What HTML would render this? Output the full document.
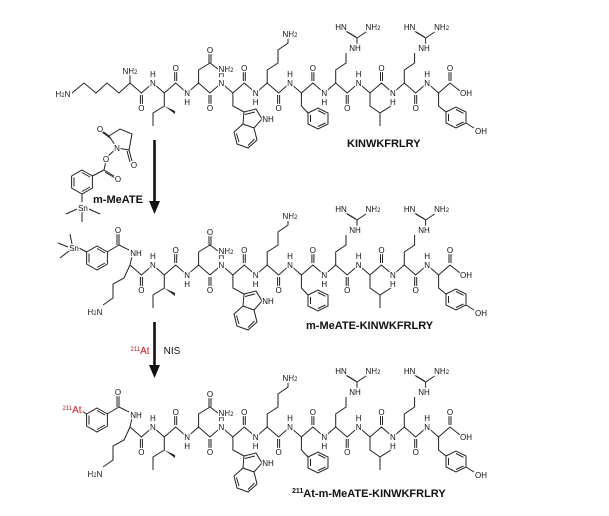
<!DOCTYPE html>
<html><head><meta charset="utf-8"><style>
html,body{margin:0;padding:0;background:#fff}
svg{display:block}
.b{fill:none;stroke:#222;stroke-width:1}
.t{font-family:"Liberation Sans",sans-serif;font-size:8px;fill:#111;stroke:#fff;stroke-width:2.5px;paint-order:stroke;text-anchor:middle}
.L{font-family:"Liberation Sans",sans-serif;font-weight:bold;font-size:11px;fill:#111}
.r{fill:#d01818}
</style></head><body>
<svg width="609" height="516" viewBox="0 0 609 516" xmlns="http://www.w3.org/2000/svg">

<!-- ===== TOP ROW ===== -->
<g>
<polyline class="b" points="130,83 141.4,93 152.9,83 164.3,93 175.7,83 187.1,93 198.6,83 210,93 221.4,83 232.9,93 244.3,83 255.7,93 267.2,83 278.6,93 290,83 301.4,93 312.9,83 324.3,93 335.7,83 347.2,93 358.6,83 370,93 381.5,83 392.9,93 404.3,83 415.7,93 427.2,83 438.6,93 450,83"/>
<path class="b" d="M140.4,95V104M142.4,95V104 M174.7,81V72M176.7,81V72 M209,95V104M211,95V104 M243.3,81V72M245.3,81V72 M277.6,95V104M279.6,95V104 M311.9,81V72M313.9,81V72 M346.2,95V104M348.2,95V104 M380.5,81V72M382.5,81V72 M414.7,95V104M416.7,95V104 M449,81V72M451,81V72 M450,83L460,91"/>
<text class="t" x="141.4" y="111">O</text><text class="t" x="175.7" y="71">O</text><text class="t" x="210" y="111">O</text><text class="t" x="244.3" y="71">O</text><text class="t" x="278.6" y="111">O</text><text class="t" x="312.9" y="71">O</text><text class="t" x="347.2" y="111">O</text><text class="t" x="381.5" y="71">O</text><text class="t" x="415.7" y="111">O</text><text class="t" x="450" y="71">O</text>
<text class="t" x="466" y="96">OH</text>
<text class="t" x="152.9" y="86">N</text><text class="t" x="152.9" y="77">H</text>
<text class="t" x="187.1" y="96">N</text><text class="t" x="187.1" y="105">H</text>
<text class="t" x="221.4" y="86">N</text><text class="t" x="221.4" y="77">H</text>
<text class="t" x="255.7" y="96">N</text><text class="t" x="255.7" y="105">H</text>
<text class="t" x="290" y="86">N</text><text class="t" x="290" y="77">H</text>
<text class="t" x="324.3" y="96">N</text><text class="t" x="324.3" y="105">H</text>
<text class="t" x="358.6" y="86">N</text><text class="t" x="358.6" y="77">H</text>
<text class="t" x="392.9" y="96">N</text><text class="t" x="392.9" y="105">H</text>
<text class="t" x="427.2" y="86">N</text><text class="t" x="427.2" y="77">H</text>
<path class="b" d="M164.3,93V106L153,113V126 M198.6,83V70L210,63 M209,63V53M211,63V53 M210,63L218,69 M232.9,93V106L244,112 M244,112L256,109L262,119L254,128L243,124Z M243,124L234,132L237,144L248,148L257,140L254,128 M267.2,83V70L278,63V50L288,43V39 M301.4,93V106L308,113 M308,113L318,108L328,113L328,124L318,129L308,124Z M335.7,83V70L346,63V53 M357,46V38 M357,38L347,32 M356,37L346,31 M357,38L366,32 M370,93V106L380,113V126M380,113L391,106 M404.3,83V70L414.6,63V53 M425.6,46V38 M425.6,38L415.6,32 M424.6,37L414.6,31 M425.6,38L434.6,32 M438.6,93V106L446,112 M446,112L456,107L466,112L466,123L456,128L446,123Z M466,123L474,128"/>
<path class="b" d="M318,110.5L325.5,114.3 M325.5,123L318,126.5 M310.5,122V115 M456,109.5L463.5,113.3 M463.5,122L456,125.5 M448.5,121V114 M236.5,133.5L239,142 M248,145.5L254.5,139 M245,114.5L255,112"/>
<path d="M164.3,106L175,111L175,114Z" fill="#222"/>
<text class="t" x="226" y="72">NH<tspan font-size="6">2</tspan></text>
<text class="t" x="210" y="53">O</text>
<text class="t" x="268" y="122">NH</text>
<text class="t" x="290" y="37">NH<tspan font-size="6">2</tspan></text>
<text class="t" x="355" y="51">NH</text>
<text class="t" x="341" y="30">HN</text><text class="t" x="373" y="30">NH<tspan font-size="6">2</tspan></text>
<text class="t" x="424" y="51">NH</text>
<text class="t" x="409.6" y="30">HN</text><text class="t" x="441.6" y="30">NH<tspan font-size="6">2</tspan></text>
<text class="t" x="481" y="134">OH</text>
<path class="b" d="M130,83V74 M130,83L119,93L107,83L96,93L84,83L72,93"/>
<text class="t" x="130" y="74">NH<tspan font-size="6">2</tspan></text>
<text class="t" x="63" y="97">H<tspan font-size="6">2</tspan>N</text>
<text class="L" x="347" y="147">KINWKFRLRY</text>
</g>

<!-- ===== REAGENT ===== -->
<path class="b" d="M117,148L109,136L120,129L132,134L129,150Z M109,136L101,130 M110,138L102,132 M129,150L132,161 M127,151L130,162 M117,148L108,156 M106,161L104,170 M82,170L92.4,176L92.4,188L82,194L71.6,188L71.6,176Z M92.4,176L104,170 M104,170L114,176 M105,172L115,178 M82,194V202 M77,209L66,214 M89,209L100,214 M82,212V222 M82,172.5L90,177 M90,187L82,191.5 M74,186.5V177.5"/>
<text class="t" x="100" y="132">O</text><text class="t" x="117" y="151">N</text><text class="t" x="134" y="168">O</text>
<text class="t" x="106" y="162">O</text><text class="t" x="118" y="182">O</text>
<text class="t" x="83" y="211">Sn</text>
<text class="L" x="93" y="203">m-MeATE</text>
<path d="M154.5,140V202" stroke="#111" stroke-width="2.6"/>
<path d="M149,201L160,201L154.5,214Z" fill="#111"/>

<path d="M154.5,322V366" stroke="#111" stroke-width="2.6"/>
<path d="M149,365L160,365L154.5,378Z" fill="#111"/>
<text class="t r" x="140" y="354" style="font-size:10px"><tspan font-size="6" dy="-3">211</tspan><tspan dy="3">At</tspan></text>
<text class="t" x="172" y="354" style="font-size:10px">NIS</text>

<!-- ===== MIDDLE ROW ===== -->
<g transform="translate(0,182)">
<polyline class="b" points="130,83 141.4,93 152.9,83 164.3,93 175.7,83 187.1,93 198.6,83 210,93 221.4,83 232.9,93 244.3,83 255.7,93 267.2,83 278.6,93 290,83 301.4,93 312.9,83 324.3,93 335.7,83 347.2,93 358.6,83 370,93 381.5,83 392.9,93 404.3,83 415.7,93 427.2,83 438.6,93 450,83"/>
<path class="b" d="M140.4,95V104M142.4,95V104 M174.7,81V72M176.7,81V72 M209,95V104M211,95V104 M243.3,81V72M245.3,81V72 M277.6,95V104M279.6,95V104 M311.9,81V72M313.9,81V72 M346.2,95V104M348.2,95V104 M380.5,81V72M382.5,81V72 M414.7,95V104M416.7,95V104 M449,81V72M451,81V72 M450,83L460,91"/>
<text class="t" x="141.4" y="111">O</text><text class="t" x="175.7" y="71">O</text><text class="t" x="210" y="111">O</text><text class="t" x="244.3" y="71">O</text><text class="t" x="278.6" y="111">O</text><text class="t" x="312.9" y="71">O</text><text class="t" x="347.2" y="111">O</text><text class="t" x="381.5" y="71">O</text><text class="t" x="415.7" y="111">O</text><text class="t" x="450" y="71">O</text>
<text class="t" x="466" y="96">OH</text>
<text class="t" x="152.9" y="86">N</text><text class="t" x="152.9" y="77">H</text>
<text class="t" x="187.1" y="96">N</text><text class="t" x="187.1" y="105">H</text>
<text class="t" x="221.4" y="86">N</text><text class="t" x="221.4" y="77">H</text>
<text class="t" x="255.7" y="96">N</text><text class="t" x="255.7" y="105">H</text>
<text class="t" x="290" y="86">N</text><text class="t" x="290" y="77">H</text>
<text class="t" x="324.3" y="96">N</text><text class="t" x="324.3" y="105">H</text>
<text class="t" x="358.6" y="86">N</text><text class="t" x="358.6" y="77">H</text>
<text class="t" x="392.9" y="96">N</text><text class="t" x="392.9" y="105">H</text>
<text class="t" x="427.2" y="86">N</text><text class="t" x="427.2" y="77">H</text>
<path class="b" d="M164.3,93V106L153,113V126 M198.6,83V70L210,63 M209,63V53M211,63V53 M210,63L218,69 M232.9,93V106L244,112 M244,112L256,109L262,119L254,128L243,124Z M243,124L234,132L237,144L248,148L257,140L254,128 M267.2,83V70L278,63V50L288,43V39 M301.4,93V106L308,113 M308,113L318,108L328,113L328,124L318,129L308,124Z M335.7,83V70L346,63V53 M357,46V38 M357,38L347,32 M356,37L346,31 M357,38L366,32 M370,93V106L380,113V126M380,113L391,106 M404.3,83V70L414.6,63V53 M425.6,46V38 M425.6,38L415.6,32 M424.6,37L414.6,31 M425.6,38L434.6,32 M438.6,93V106L446,112 M446,112L456,107L466,112L466,123L456,128L446,123Z M466,123L474,128"/>
<path class="b" d="M318,110.5L325.5,114.3 M325.5,123L318,126.5 M310.5,122V115 M456,109.5L463.5,113.3 M463.5,122L456,125.5 M448.5,121V114 M236.5,133.5L239,142 M248,145.5L254.5,139 M245,114.5L255,112"/>
<path d="M164.3,106L175,111L175,114Z" fill="#222"/>
<text class="t" x="226" y="72">NH<tspan font-size="6">2</tspan></text>
<text class="t" x="210" y="53">O</text>
<text class="t" x="268" y="122">NH</text>
<text class="t" x="290" y="37">NH<tspan font-size="6">2</tspan></text>
<text class="t" x="355" y="51">NH</text>
<text class="t" x="341" y="30">HN</text><text class="t" x="373" y="30">NH<tspan font-size="6">2</tspan></text>
<text class="t" x="424" y="51">NH</text>
<text class="t" x="409.6" y="30">HN</text><text class="t" x="441.6" y="30">NH<tspan font-size="6">2</tspan></text>
<text class="t" x="481" y="134">OH</text>
<path class="b" d="M130,83L132,74 M129,68L119,63 M119,63V51 M117,63V51 M119,63L107,70 M97,64L107.4,70L107.4,82L97,88L86.6,82L86.6,70Z M86.6,70L79,66 M130,83L124,96L113,102L113,116L103,123 M97,66.5L105,71 M105,81L97,85.5 M89,80.5V71.5"/>
<text class="t" x="136" y="74">NH</text>
<text class="t" x="118" y="51">O</text>
<text class="t" x="74" y="69">Sn</text>
<path class="b" d="M72,62L70,52 M68,65L58,61 M69,69L60,76"/>
<text class="t" x="95" y="133">H<tspan font-size="6">2</tspan>N</text>
<text class="L" x="306" y="147">m-MeATE-KINWKFRLRY</text>
</g>

<!-- ===== BOTTOM ROW ===== -->
<g transform="translate(0,344)">
<polyline class="b" points="130,83 141.4,93 152.9,83 164.3,93 175.7,83 187.1,93 198.6,83 210,93 221.4,83 232.9,93 244.3,83 255.7,93 267.2,83 278.6,93 290,83 301.4,93 312.9,83 324.3,93 335.7,83 347.2,93 358.6,83 370,93 381.5,83 392.9,93 404.3,83 415.7,93 427.2,83 438.6,93 450,83"/>
<path class="b" d="M140.4,95V104M142.4,95V104 M174.7,81V72M176.7,81V72 M209,95V104M211,95V104 M243.3,81V72M245.3,81V72 M277.6,95V104M279.6,95V104 M311.9,81V72M313.9,81V72 M346.2,95V104M348.2,95V104 M380.5,81V72M382.5,81V72 M414.7,95V104M416.7,95V104 M449,81V72M451,81V72 M450,83L460,91"/>
<text class="t" x="141.4" y="111">O</text><text class="t" x="175.7" y="71">O</text><text class="t" x="210" y="111">O</text><text class="t" x="244.3" y="71">O</text><text class="t" x="278.6" y="111">O</text><text class="t" x="312.9" y="71">O</text><text class="t" x="347.2" y="111">O</text><text class="t" x="381.5" y="71">O</text><text class="t" x="415.7" y="111">O</text><text class="t" x="450" y="71">O</text>
<text class="t" x="466" y="96">OH</text>
<text class="t" x="152.9" y="86">N</text><text class="t" x="152.9" y="77">H</text>
<text class="t" x="187.1" y="96">N</text><text class="t" x="187.1" y="105">H</text>
<text class="t" x="221.4" y="86">N</text><text class="t" x="221.4" y="77">H</text>
<text class="t" x="255.7" y="96">N</text><text class="t" x="255.7" y="105">H</text>
<text class="t" x="290" y="86">N</text><text class="t" x="290" y="77">H</text>
<text class="t" x="324.3" y="96">N</text><text class="t" x="324.3" y="105">H</text>
<text class="t" x="358.6" y="86">N</text><text class="t" x="358.6" y="77">H</text>
<text class="t" x="392.9" y="96">N</text><text class="t" x="392.9" y="105">H</text>
<text class="t" x="427.2" y="86">N</text><text class="t" x="427.2" y="77">H</text>
<path class="b" d="M164.3,93V106L153,113V126 M198.6,83V70L210,63 M209,63V53M211,63V53 M210,63L218,69 M232.9,93V106L244,112 M244,112L256,109L262,119L254,128L243,124Z M243,124L234,132L237,144L248,148L257,140L254,128 M267.2,83V70L278,63V50L288,43V39 M301.4,93V106L308,113 M308,113L318,108L328,113L328,124L318,129L308,124Z M335.7,83V70L346,63V53 M357,46V38 M357,38L347,32 M356,37L346,31 M357,38L366,32 M370,93V106L380,113V126M380,113L391,106 M404.3,83V70L414.6,63V53 M425.6,46V38 M425.6,38L415.6,32 M424.6,37L414.6,31 M425.6,38L434.6,32 M438.6,93V106L446,112 M446,112L456,107L466,112L466,123L456,128L446,123Z M466,123L474,128"/>
<path class="b" d="M318,110.5L325.5,114.3 M325.5,123L318,126.5 M310.5,122V115 M456,109.5L463.5,113.3 M463.5,122L456,125.5 M448.5,121V114 M236.5,133.5L239,142 M248,145.5L254.5,139 M245,114.5L255,112"/>
<path d="M164.3,106L175,111L175,114Z" fill="#222"/>
<text class="t" x="226" y="72">NH<tspan font-size="6">2</tspan></text>
<text class="t" x="210" y="53">O</text>
<text class="t" x="268" y="122">NH</text>
<text class="t" x="290" y="37">NH<tspan font-size="6">2</tspan></text>
<text class="t" x="355" y="51">NH</text>
<text class="t" x="341" y="30">HN</text><text class="t" x="373" y="30">NH<tspan font-size="6">2</tspan></text>
<text class="t" x="424" y="51">NH</text>
<text class="t" x="409.6" y="30">HN</text><text class="t" x="441.6" y="30">NH<tspan font-size="6">2</tspan></text>
<text class="t" x="481" y="134">OH</text>
<path class="b" d="M130,83L132,74 M129,68L119,63 M119,63V51 M117,63V51 M119,63L107,70 M97,64L107.4,70L107.4,82L97,88L86.6,82L86.6,70Z M86.6,70L80,66 M130,83L124,96L113,102L113,116L103,123 M97,66.5L105,71 M105,81L97,85.5 M89,80.5V71.5"/>
<text class="t" x="136" y="74">NH</text>
<text class="t" x="118" y="51">O</text>
<text class="t r" x="72" y="69" style="font-size:10px"><tspan font-size="6" dy="-3">211</tspan><tspan dy="3">At</tspan></text>
<text class="t" x="95" y="133">H<tspan font-size="6">2</tspan>N</text>
<text class="L" x="292" y="153"><tspan font-size="7" dy="-4">211</tspan><tspan dy="4">At-m-MeATE-KINWKFRLRY</tspan></text>
</g>
</svg>
</body></html>
